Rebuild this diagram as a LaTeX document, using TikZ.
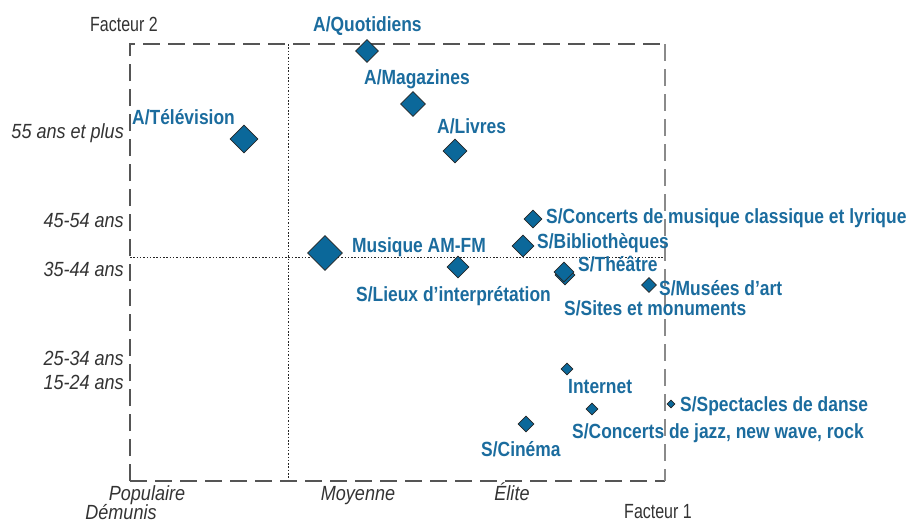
\documentclass[tikz,border=0pt]{standalone}
\usepackage{fontspec}
\setmainfont{Liberation Sans}
\newfontfamily\bluefont{Liberation Sans}[FakeStretch=0.85]
\newfontfamily\grayfont{Liberation Sans}[FakeStretch=0.78]
\newfontfamily\italfont{Liberation Sans}[FakeStretch=0.88]
\usetikzlibrary{shapes.geometric}
\definecolor{ptblue}{HTML}{0B689A}
\definecolor{txtblue}{HTML}{1B6C9E}
\definecolor{axgray}{HTML}{333333}
\definecolor{framegray}{HTML}{555555}
\definecolor{rightgray}{HTML}{8A8A8A}
\tikzset{
  pt/.style={diamond, draw=black!85, line width=0.6pt, fill=ptblue, inner sep=0pt,
             minimum width=#1, minimum height=#1, aspect=1},
  lbl/.style={anchor=base west, inner sep=0pt, text=txtblue,
              font=\bluefont\bfseries\fontsize{20.5}{22}\selectfont},
  axlbl/.style={inner sep=0pt, text=axgray,
              font=\italfont\itshape\fontsize{20.5}{22}\selectfont},
  factlbl/.style={inner sep=0pt, text=axgray,
              font=\grayfont\fontsize{20.5}{22}\selectfont},
  frame/.style={line width=1.3pt, dash pattern=on 17pt off 8pt},
  guide/.style={line width=0.7pt, dash pattern=on 1.5pt off 1.8pt, black!85},
}
\begin{document}
\begin{tikzpicture}[x=1pt,y=-1pt]
\useasboundingbox (0,0) rectangle (907,523);

% frame corners
\coordinate (tl) at (130,44);
\coordinate (tr) at (665,44);
\coordinate (bl) at (130,481);
\coordinate (br) at (665,481);
\coordinate (vt) at (288,44);
\coordinate (vb) at (288,481);
\coordinate (hl) at (130,257);
\coordinate (hr) at (665,257);

\draw[guide] (vt) -- (vb);
\draw[guide] (hl) -- (hr);
\draw[frame, framegray] (bl) -- (tl) -- (tr);
\draw[frame, framegray] (bl) -- (br);
\draw[frame, rightgray] (tr) -- (br);

% axis labels
\node[factlbl, anchor=base west] (f2) at (90,31) {Facteur 2};
\node[factlbl, anchor=base] (f1) at (658,518) {Facteur 1};

\node[axlbl, anchor=base east] (a55) at (124,138) {55 ans et plus};
\node[axlbl, anchor=base east] (a45) at (124,227) {45-54 ans};
\node[axlbl, anchor=base east] (a35) at (124,276) {35-44 ans};
\node[axlbl, anchor=base east] (a25) at (124,365) {25-34 ans};
\node[axlbl, anchor=base east] (a15) at (124,389) {15-24 ans};

\node[axlbl, anchor=base] (pop) at (147,500) {Populaire};
\node[axlbl, anchor=base] (dem) at (121,519) {Démunis};
\node[axlbl, anchor=base] (moy) at (358,500) {Moyenne};
\node[axlbl, anchor=base] (eli) at (512,500) {Élite};

% points
\node[pt=23] (pQuot) at (367,51) {};
\node[pt=25] (pMag) at (413,104) {};
\node[pt=24] (pLiv) at (455,151) {};
\node[pt=28] (pTel) at (244,139) {};
\node[pt=35] (pMus) at (325,253) {};
\node[pt=22] (pLieux) at (458,267) {};
\node[pt=18] (pClass) at (533,219) {};
\node[pt=22] (pBib) at (523,246) {};
\node[pt=20] (pSites) at (565,275) {};
\node[pt=20] (pThea) at (564,272) {};
\node[pt=15] (pMusees) at (649,285) {};
\node[pt=12] (pNet) at (567,369) {};
\node[pt=12] (pJazz) at (592,409) {};
\node[pt=8] (pDanse) at (671,404) {};
\node[pt=16] (pCine) at (526,424) {};

% labels
\node[lbl] (lQuot) at (313,31) {A/Quotidiens};
\node[lbl] (lMag) at (364,84) {A/Magazines};
\node[lbl] (lLiv) at (437,133) {A/Livres};
\node[lbl] (lTel) at (132,124) {A/Télévision};
\node[lbl] (lMus) at (352,252) {Musique AM-FM};
\node[lbl] (lLieux) at (356,301) {S/Lieux d’interprétation};
\node[lbl] (lClass) at (546,223) {S/Concerts de musique classique et lyrique};
\node[lbl] (lBib) at (537,248) {S/Bibliothèques};
\node[lbl] (lThea) at (578,271) {S/Théâtre};
\node[lbl] (lMusees) at (659,295) {S/Musées d’art};
\node[lbl] (lSites) at (564,315) {S/Sites et monuments};
\node[lbl] (lNet) at (568,393) {Internet};
\node[lbl] (lJazz) at (572,438) {S/Concerts de jazz, new wave, rock};
\node[lbl] (lDanse) at (680,411) {S/Spectacles de danse};
\node[lbl] (lCine) at (481,456) {S/Cinéma};
\end{tikzpicture}
\end{document}
